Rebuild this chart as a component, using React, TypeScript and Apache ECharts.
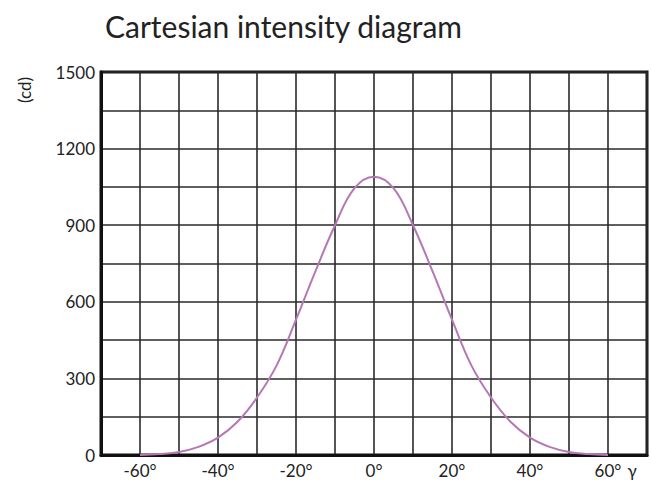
import React, { useEffect, useRef } from "react";
import * as echarts from "echarts";

const titleText = "Cartesian intensity diagram";
const yAxisName = "(cd)";
const xAxisName = "γ";
const angles = [-60, -55, -50, -45, -40, -35, -30, -25, -20, -15, -10, -5, 0, 5, 10, 15, 20, 25, 30, 35, 40, 45, 50, 55, 60];
const intensity = [0, 4, 12, 32, 68, 130, 225, 350, 530, 720, 900, 1045, 1090, 1045, 900, 720, 530, 350, 225, 130, 68, 32, 12, 4, 0];
const xLabelValues = [-60, -40, -20, 0, 20, 40, 60];
const yLabelValues = [0, 300, 600, 900, 1200, 1500];

export default function App() {
  const ref = useRef<HTMLDivElement>(null);
  useEffect(() => {
    document.body.style.margin = "0";
    const chart = echarts.init(ref.current!, null, { renderer: "svg" });
    const font = "Lato, 'Noto Sans', sans-serif";
    chart.setOption({
      animation: false,
      backgroundColor: "#ffffff",
      title: {
        text: titleText,
        left: 100,
        top: 6,
        textStyle: { fontFamily: font, fontSize: 30, fontWeight: "normal", color: "#222" },
      },
      grid: {
        left: 101,
        top: 72,
        right: 4,
        bottom: 30,
        show: true,
        borderColor: "#111",
        borderWidth: 3,
        backgroundColor: "transparent",
      },
      xAxis: {
        type: "value",
        min: -70,
        max: 70,
        interval: 10,
        axisLine: { show: true, onZero: false, lineStyle: { color: "#111", width: 3 } },
        axisTick: { show: false },
        splitLine: { show: true, lineStyle: { color: "#2a2a2a", width: 1.6 } },
        axisLabel: {
          margin: 7,
          fontFamily: font,
          fontSize: 17,
          color: "#222",
          formatter: (v: number) => (xLabelValues.includes(v) ? `${v}°` : ""),
        },
      },
      yAxis: {
        type: "value",
        min: 0,
        max: 1500,
        interval: 150,
        axisLine: { show: true, onZero: false, lineStyle: { color: "#111", width: 3 } },
        axisTick: { show: false },
        splitLine: { show: true, lineStyle: { color: "#2a2a2a", width: 1.6 } },
        axisLabel: {
          margin: 6,
          fontFamily: font,
          fontSize: 17,
          color: "#222",
          formatter: (v: number) => (yLabelValues.includes(v) ? `${v}` : ""),
        },
      },
      graphic: [
        {
          type: "text",
          x: 24,
          y: 90,
          rotation: Math.PI / 2,
          style: {
            text: yAxisName,
            fontFamily: font,
            fontSize: 17,
            fill: "#222",
            align: "center",
            verticalAlign: "middle",
          },
        },
        {
          type: "text",
          x: 632,
          y: 470,
          style: {
            text: xAxisName,
            fontFamily: font,
            fontSize: 17,
            fill: "#222",
            align: "center",
            verticalAlign: "middle",
          },
        },
      ],
      series: [
        {
          type: "line",
          data: angles.map((a, i) => [a, intensity[i]]),
          smooth: 0.4,
          showSymbol: false,
          symbol: "none",
          lineStyle: { color: "#b478b4", width: 2 },
          z: 5,
        },
      ],
    });
    return () => chart.dispose();
  }, []);
  return <div ref={ref} style={{ width: 651, height: 485 }} />;
}
